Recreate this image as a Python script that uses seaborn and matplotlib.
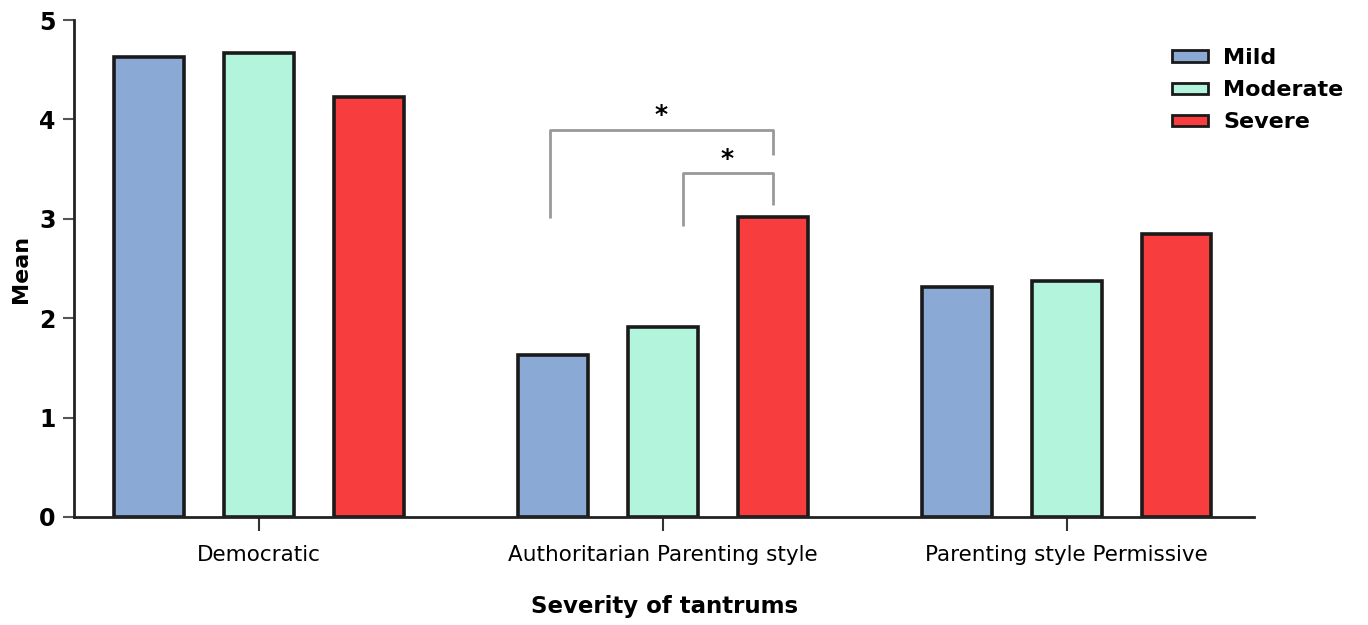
import matplotlib
matplotlib.use("Agg")
import matplotlib.pyplot as plt
import seaborn as sns
import pandas as pd
from matplotlib.patches import Patch

groups = ["Democratic", "Authoritarian Parenting style", "Parenting style Permissive"]
severity = ["Mild", "Moderate", "Severe"]
mild = [4.63, 1.63, 2.31]
moderate = [4.67, 1.91, 2.37]
severe = [4.23, 3.02, 2.85]
colors = ["#8aa9d4", "#b3f5dc", "#f83d3f"]
yticks = [0, 1, 2, 3, 4, 5]

rows = []
for g, a, b, c in zip(groups, mild, moderate, severe):
    rows += [(g, "Mild", a), (g, "Moderate", b), (g, "Severe", c)]
df = pd.DataFrame(rows, columns=["group", "severity", "mean"])

sns.set_theme(style="white")
plt.rcParams['font.family'] = ['DejaVu Sans']
plt.rcParams['text.color'] = 'black'
plt.rcParams['axes.labelcolor'] = 'black'
plt.rcParams['xtick.color'] = 'black'
plt.rcParams['ytick.color'] = 'black'

fig = plt.figure(figsize=(13.68, 6.25), dpi=100)
ax = fig.add_axes([0.054, 0.1728, 0.863, 0.7952])

sns.barplot(data=df, x="group", y="mean", hue="severity", hue_order=severity,
            order=groups, palette=colors, saturation=1, width=0.816, gap=0.364,
            edgecolor="#1a1a1a", linewidth=2.6, errorbar=None, ax=ax, legend=False)

ax.set_ylim(0, 5)
ax.set_xlim(-0.458, 2.465)
ax.set_yticks(yticks)
ax.set_yticklabels([str(t) for t in yticks], fontsize=17, fontweight="bold")
ax.tick_params(axis="y", length=8, width=1.5, color="#555555", pad=5, left=True)
ax.tick_params(axis="x", length=10, width=1.5, color="#333333", pad=10, bottom=True, labelsize=15.5)
for sp in ["top", "right"]:
    ax.spines[sp].set_visible(False)
for sp in ["left", "bottom"]:
    ax.spines[sp].set_color("#222222")
    ax.spines[sp].set_linewidth(2)

ax.set_ylabel("Mean", fontsize=16, fontweight="bold", labelpad=6)
ax.set_xlabel("Severity of tantrums", fontsize=16.5, fontweight="bold", labelpad=22)

# significance brackets
bc = "#999999"
ax.plot([0.72, 0.72, 1.272, 1.272], [3.01, 3.89, 3.89, 3.64], color=bc, lw=2, solid_capstyle="butt")
ax.plot([1.05, 1.05, 1.272, 1.272], [2.93, 3.46, 3.46, 3.14], color=bc, lw=2, solid_capstyle="butt")
ax.text(0.996, 4.04, "*", ha="center", va="center", fontsize=18, fontweight="bold")
ax.text(1.16, 3.60, "*", ha="center", va="center", fontsize=18, fontweight="bold")

handles = [Patch(facecolor=c, edgecolor="#1a1a1a", linewidth=2, label=s) for c, s in zip(colors, severity)]
leg = fig.legend(handles=handles, loc="upper left", bbox_to_anchor=(1152 / 1368, 1 - 28 / 625),
                 frameon=False, prop={"size": 16, "weight": "bold"},
                 handlelength=1.6, handleheight=0.4, handletextpad=0.7, labelspacing=0.55)

fig.savefig("out.png", dpi=100)
